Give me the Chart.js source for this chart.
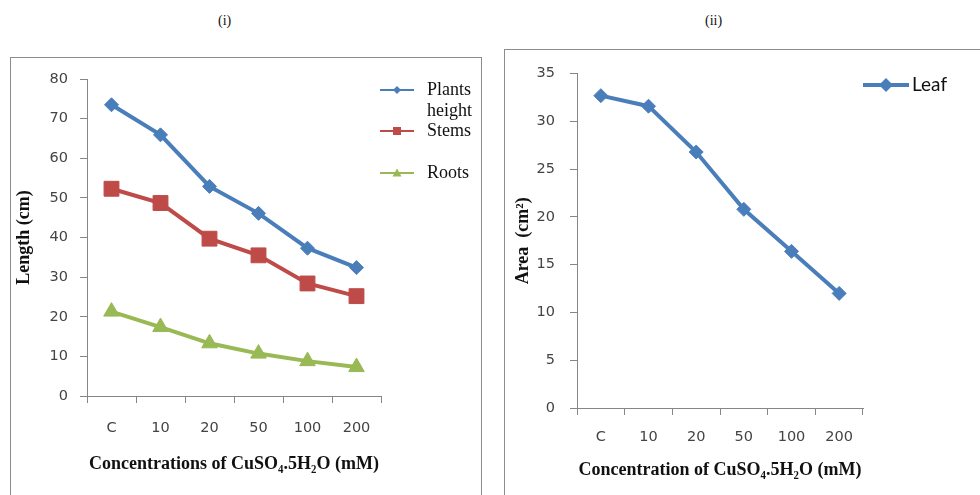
<!DOCTYPE html>
<html>
<head>
<meta charset="utf-8">
<script src="https://cdn.jsdelivr.net/npm/chart.js@4.4.1/dist/chart.umd.min.js"></script>
<style>
  body { margin: 0; background: #fff; }
  #page { position: relative; width: 980px; height: 495px; overflow: hidden; background: #fff; }
  .box { position: absolute; border: 1.5px solid #8c8c8c; }
  .cap { position: absolute; font-family: "Liberation Serif", serif; font-size: 14px; color: #111; }
  .legend { position: absolute; font-family: "Liberation Serif", serif; font-size: 18px; color: #111; line-height: 21px; }
  .legend .item { position: absolute; white-space: nowrap; }
  .legend svg { position: absolute; left: 0; }
  .legend span { position: absolute; }
  canvas { position: absolute; }
</style>
</head>
<body>
<div id="page">
  <div class="cap" style="left:218px;top:13px;">(i)</div>
  <div class="cap" style="left:705px;top:13px;">(ii)</div>
  <div class="box" style="left:10px;top:57px;width:470px;height:460px;"></div>
  <div class="box" style="left:504px;top:49px;width:500px;height:470px;"></div>
  <canvas id="chartL" width="468" height="437" style="left:11px;top:58px;"></canvas>
  <canvas id="chartR" width="474" height="445" style="left:506px;top:50px;"></canvas>
  <div id="legendL" class="legend" style="left:380px;top:79px;"></div>
  <div id="legendR" class="legend" style="left:863px;top:73px;font-family:Lato, 'Open Sans', sans-serif;font-size:19px;"></div>
</div>
<script>
"use strict";
// categories (CuSO4.5H2O, mM)
var categories = ["C", "10", "20", "50", "100", "200"];
// (i) length, cm
var plantsHeight = [73.5, 65.9, 52.9, 46.1, 37.3, 32.4];
var stems = [52.3, 48.7, 39.7, 35.5, 28.4, 25.2];
var roots = [21.3, 17.4, 13.3, 10.7, 8.8, 7.3];
// (ii) leaf area, cm2
var leafArea = [32.7, 31.6, 26.8, 20.8, 16.4, 12.0];

var BLUE = "#4A7EBB", RED = "#BE4B48", GREEN = "#98B954";
var AXIS = "#868686";
var tickFont = { family: "DejaVu Sans", size: 14.5 };
var titleFont = { family: "Liberation Serif", size: 18, weight: "bold" };

function xScale(title, tickPad, titlePad, height) {
  return {
    offset: true,
    border: { color: AXIS, width: 1 },
    grid: { offset: true, drawOnChartArea: false, drawTicks: true, tickLength: 7, color: AXIS },
    ticks: { color: "#444", font: tickFont, padding: tickPad, maxRotation: 0 },
    title: { display: true, text: title, color: "#111", font: titleFont, padding: { top: 0, bottom: titlePad } },
    afterFit: function (s) { s.height = height; }
  };
}
function yScale(title, max, step, tickPad, titlePad, width) {
  return {
    min: 0, max: max,
    border: { color: AXIS, width: 1 },
    grid: { drawOnChartArea: false, drawTicks: true, tickLength: 7, color: AXIS },
    ticks: { stepSize: step, color: "#444", font: tickFont, padding: tickPad },
    title: { display: true, text: title, color: "#111", font: titleFont, padding: { top: titlePad, bottom: 0 } },
    afterFit: function (s) { s.width = width; }
  };
}
function series(label, data, color, style, radius) {
  return {
    label: label, data: data, borderColor: color, backgroundColor: color,
    borderWidth: 4, pointStyle: style, pointRadius: radius, pointBorderWidth: 1,
    pointBorderColor: color, pointBackgroundColor: color, tension: 0
  };
}
var common = {
  responsive: false, animation: false, devicePixelRatio: 1,
  plugins: { legend: { display: false }, tooltip: { enabled: false } }
};

var dsL = [
  series("Plants height", plantsHeight, BLUE, "rectRot", 7),
  series("Stems", stems, RED, "rect", 10.5),
  series("Roots", roots, GREEN, "triangle", 9)
];
new Chart(document.getElementById("chartL"), {
  type: "line",
  data: { labels: categories, datasets: dsL },
  options: Object.assign({}, common, {
    layout: { padding: { left: 0, right: 98, top: 21, bottom: 0 } },
    scales: {
      x: xScale("Concentrations of CuSO\u2084.5H\u2082O (mM)", 17, 20, 99),
      y: yScale("Length (cm)", 80, 10, 12, 3, 76)
    }
  })
});

var dsR = [series("Leaf", leafArea, BLUE, "rectRot", 7)];
new Chart(document.getElementById("chartR"), {
  type: "line",
  data: { labels: categories, datasets: dsR },
  options: Object.assign({}, common, {
    layout: { padding: { left: 0, right: 117, top: 23, bottom: 0 } },
    scales: {
      x: xScale("Concentration of CuSO\u2084.5H\u2082O (mM)", 14, 14, 87),
      y: yScale("Area  (cm\u00b2)", 35, 5, 15, 7, 71)
    }
  })
});

// legends built from the dataset styles
function marker(style, color, cx, s) {
  var cy = 10;
  if (style === "rectRot") return '<polygon points="' + [cx, cy - s, cx + s, cy, cx, cy + s, cx - s, cy].join(",") + '" fill="' + color + '"/>';
  if (style === "rect") return '<rect x="' + (cx - s) + '" y="' + (cy - s) + '" width="' + 2 * s + '" height="' + 2 * s + '" fill="' + color + '"/>';
  return '<polygon points="' + [cx, cy - s, cx + s, cy + s * 0.8, cx - s, cy + s * 0.8].join(",") + '" fill="' + color + '"/>';
}
function buildLegend(el, items) {
  el.innerHTML = items.map(function (it) {
    var d = it.ds;
    return '<div class="item" style="top:' + it.top + 'px">' +
      '<svg width="' + it.w + '" height="20" style="top:' + it.svgTop + 'px">' +
      '<line x1="0" y1="10" x2="' + it.w + '" y2="10" stroke="' + d.borderColor + '" stroke-width="' + it.lw + '"/>' +
      marker(d.pointStyle, d.borderColor, it.w / 2, it.ms) + '</svg>' +
      '<span style="left:' + it.tx + 'px;top:' + it.ty + 'px">' + it.text + '</span></div>';
  }).join("");
}
buildLegend(document.getElementById("legendL"), [
  { ds: dsL[0], top: 0, svgTop: 1, w: 34, lw: 2, ms: 4, tx: 47, ty: 0, text: "Plants<br>height" },
  { ds: dsL[1], top: 42, svgTop: 0, w: 34, lw: 2, ms: 4, tx: 47, ty: -1, text: "Stems" },
  { ds: dsL[2], top: 84, svgTop: 0, w: 34, lw: 2, ms: 4.5, tx: 47, ty: -1, text: "Roots" }
]);
buildLegend(document.getElementById("legendR"), [
  { ds: dsR[0], top: 0, svgTop: 2, w: 46, lw: 4, ms: 7, tx: 49, ty: 0, text: "Leaf" }
]);
</script>
</body>
</html>
